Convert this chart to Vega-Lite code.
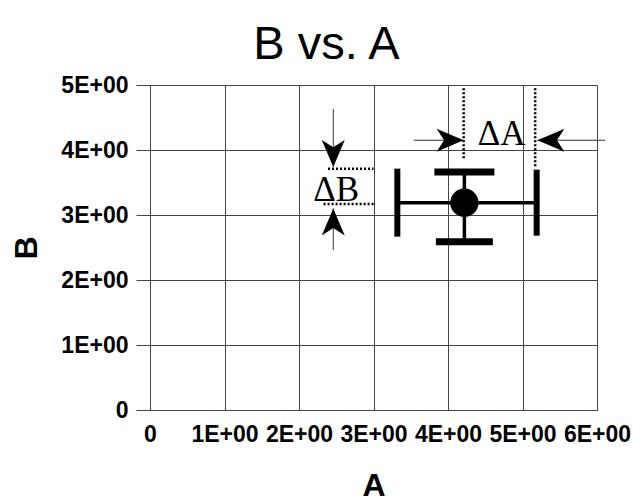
{
  "$schema": "https://vega.github.io/schema/vega-lite/v6.json",
  "width": 447,
  "height": 325,
  "autosize": {"type": "none"},
  "padding": {"left": 150, "top": 85, "right": 36, "bottom": 92},
  "background": "white",
  "title": {
    "text": "B vs. A",
    "font": "Liberation Sans",
    "fontSize": 47,
    "fontWeight": "normal",
    "color": "black",
    "anchor": "middle",
    "frame": "group",
    "dx": -47,
    "dy": 59,
    "offset": 27,
    "baseline": "alphabetic"
  },
  "datasets": {
    "point": [
      {"A": 4.22, "B": 3.19, "A_low": 3.32, "A_high": 5.19, "B_low": 2.59, "B_high": 3.66}
    ],
    "dotted": [
      {"A": 4.21, "B": 4.95, "A_end": 4.21, "B_end": 3.85},
      {"A": 5.17, "B": 4.95, "A_end": 5.17, "B_end": 3.72},
      {"A": 2.39, "B": 3.71, "A_end": 3.0, "B_end": 3.71},
      {"A": 2.33, "B": 3.17, "A_end": 3.03, "B_end": 3.17}
    ],
    "shafts": [
      {"A": 3.54, "B": 4.15, "A_end": 4.21, "B_end": 4.15},
      {"A": 5.2, "B": 4.15, "A_end": 6.11, "B_end": 4.15},
      {"A": 2.46, "B": 4.63, "A_end": 2.46, "B_end": 3.74},
      {"A": 2.46, "B": 2.46, "A_end": 2.46, "B_end": 3.1}
    ],
    "heads": [
      {"A": 4.21, "B": 4.15, "dir": "right"},
      {"A": 5.2, "B": 4.15, "dir": "left"},
      {"A": 2.46, "B": 3.74, "dir": "down"},
      {"A": 2.46, "B": 3.1, "dir": "up"}
    ],
    "labels": [
      {"A": 4.72, "B": 4.08, "label": "ΔA"},
      {"A": 2.5, "B": 3.21, "label": "ΔB"}
    ]
  },
  "layer": [
    {
      "data": {"name": "point"},
      "mark": {"type": "rule", "color": "black", "strokeWidth": 3.5},
      "encoding": {
        "x": {
          "field": "A_low", "type": "quantitative", "title": "A",
          "scale": {"domain": [0, 6], "nice": false, "zero": true},
          "axis": {
            "title": "A",
            "values": [0, 0.5, 1, 1.5, 2, 2.5, 3, 3.5, 4, 4.5, 5, 5.5, 6],
            "labelExpr": "datum.value == 0 ? '0' : (datum.value % 1 == 0 ? datum.value + 'E+00' : '')",
            "tickSize": -7,
            "labelPadding": 20,
            "labelOverlap": false,
            "labelFlush": false,
            "labelBound": false,
            "titlePadding": 24,
            "gridOpacity": {"condition": {"test": "datum.value % 1 != 0", "value": 0}, "value": 1}
          }
        },
        "x2": {"field": "A_high"},
        "y": {
          "field": "B", "type": "quantitative", "title": "B",
          "scale": {"domain": [0, 5], "nice": false, "zero": true},
          "axis": {
            "title": "B",
            "values": [0, 1, 2, 3, 4, 5],
            "labelExpr": "datum.value == 0 ? '0' : datum.value + 'E+00'",
            "tickSize": 14,
            "labelPadding": 8,
            "labelOverlap": false,
            "labelFlush": false,
            "labelBound": false,
            "titlePadding": 17
          }
        }
      }
    },
    {
      "data": {"name": "point"},
      "mark": {"type": "rule", "color": "black", "strokeWidth": 3.5},
      "encoding": {
        "x": {"field": "A", "type": "quantitative", "title": "A"},
        "y": {"field": "B_low", "type": "quantitative", "title": "B"},
        "y2": {"field": "B_high"}
      }
    },
    {
      "data": {"name": "point"},
      "mark": {"type": "tick", "orient": "horizontal", "color": "black", "opacity": 1, "size": 60, "thickness": 7},
      "encoding": {
        "x": {"field": "A", "type": "quantitative", "title": "A"},
        "y": {"field": "B_high", "type": "quantitative", "title": "B"}
      }
    },
    {
      "data": {"name": "point"},
      "mark": {"type": "tick", "orient": "horizontal", "color": "black", "opacity": 1, "size": 57, "thickness": 7},
      "encoding": {
        "x": {"field": "A", "type": "quantitative", "title": "A"},
        "y": {"field": "B_low", "type": "quantitative", "title": "B"}
      }
    },
    {
      "data": {"name": "point"},
      "mark": {"type": "tick", "orient": "vertical", "color": "black", "opacity": 1, "size": 68, "thickness": 6},
      "encoding": {
        "x": {"field": "A_low", "type": "quantitative", "title": "A"},
        "y": {"field": "B", "type": "quantitative", "title": "B"}
      }
    },
    {
      "data": {"name": "point"},
      "mark": {"type": "tick", "orient": "vertical", "color": "black", "opacity": 1, "size": 66, "thickness": 6},
      "encoding": {
        "x": {"field": "A_high", "type": "quantitative", "title": "A"},
        "y": {"field": "B", "type": "quantitative", "title": "B"}
      }
    },
    {
      "data": {"name": "point"},
      "mark": {"type": "circle", "color": "black", "opacity": 1, "size": 800},
      "encoding": {
        "x": {"field": "A", "type": "quantitative", "title": "A"},
        "y": {"field": "B", "type": "quantitative", "title": "B"}
      }
    },
    {
      "data": {"name": "dotted"},
      "mark": {"type": "rule", "color": "black", "strokeWidth": 2.5, "strokeDash": [2, 2]},
      "encoding": {
        "x": {"field": "A", "type": "quantitative", "title": "A"},
        "y": {"field": "B", "type": "quantitative", "title": "B"},
        "x2": {"field": "A_end"},
        "y2": {"field": "B_end"}
      }
    },
    {
      "data": {"name": "shafts"},
      "mark": {"type": "rule", "color": "#333333", "strokeWidth": 1},
      "encoding": {
        "x": {"field": "A", "type": "quantitative", "title": "A"},
        "y": {"field": "B", "type": "quantitative", "title": "B"},
        "x2": {"field": "A_end"},
        "y2": {"field": "B_end"}
      }
    },
    {
      "data": {"name": "heads"},
      "mark": {"type": "point", "filled": true, "color": "black", "opacity": 1, "size": 729, "strokeWidth": 0},
      "encoding": {
        "x": {"field": "A", "type": "quantitative", "title": "A"},
        "y": {"field": "B", "type": "quantitative", "title": "B"},
        "shape": {
          "field": "dir", "type": "nominal", "legend": null,
          "scale": {
            "domain": ["right", "left", "down", "up"],
            "range": [
              "M0,0L-2,-0.85L-1.45,0L-2,0.85Z",
              "M0,0L2,-0.85L1.45,0L2,0.85Z",
              "M0,0L-0.85,-2L0,-1.45L0.85,-2Z",
              "M0,0L-0.85,2L0,1.45L0.85,2Z"
            ]
          }
        }
      }
    },
    {
      "data": {"name": "labels"},
      "mark": {"type": "text", "font": "Liberation Serif", "fontSize": 35, "color": "black", "align": "center", "baseline": "alphabetic"},
      "encoding": {
        "x": {"field": "A", "type": "quantitative", "title": "A"},
        "y": {"field": "B", "type": "quantitative", "title": "B"},
        "text": {"field": "label"}
      }
    }
  ],
  "config": {
    "view": {"stroke": null},
    "axis": {
      "domainColor": "#444444",
      "gridColor": "#444444",
      "tickColor": "#444444",
      "domainWidth": 1,
      "gridWidth": 1,
      "tickWidth": 1,
      "labelFont": "Liberation Sans",
      "labelFontWeight": "bold",
      "labelFontSize": 23,
      "labelColor": "black",
      "titleFont": "Liberation Sans",
      "titleFontSize": 32,
      "titleFontWeight": "bold",
      "titleColor": "black"
    }
  }
}
